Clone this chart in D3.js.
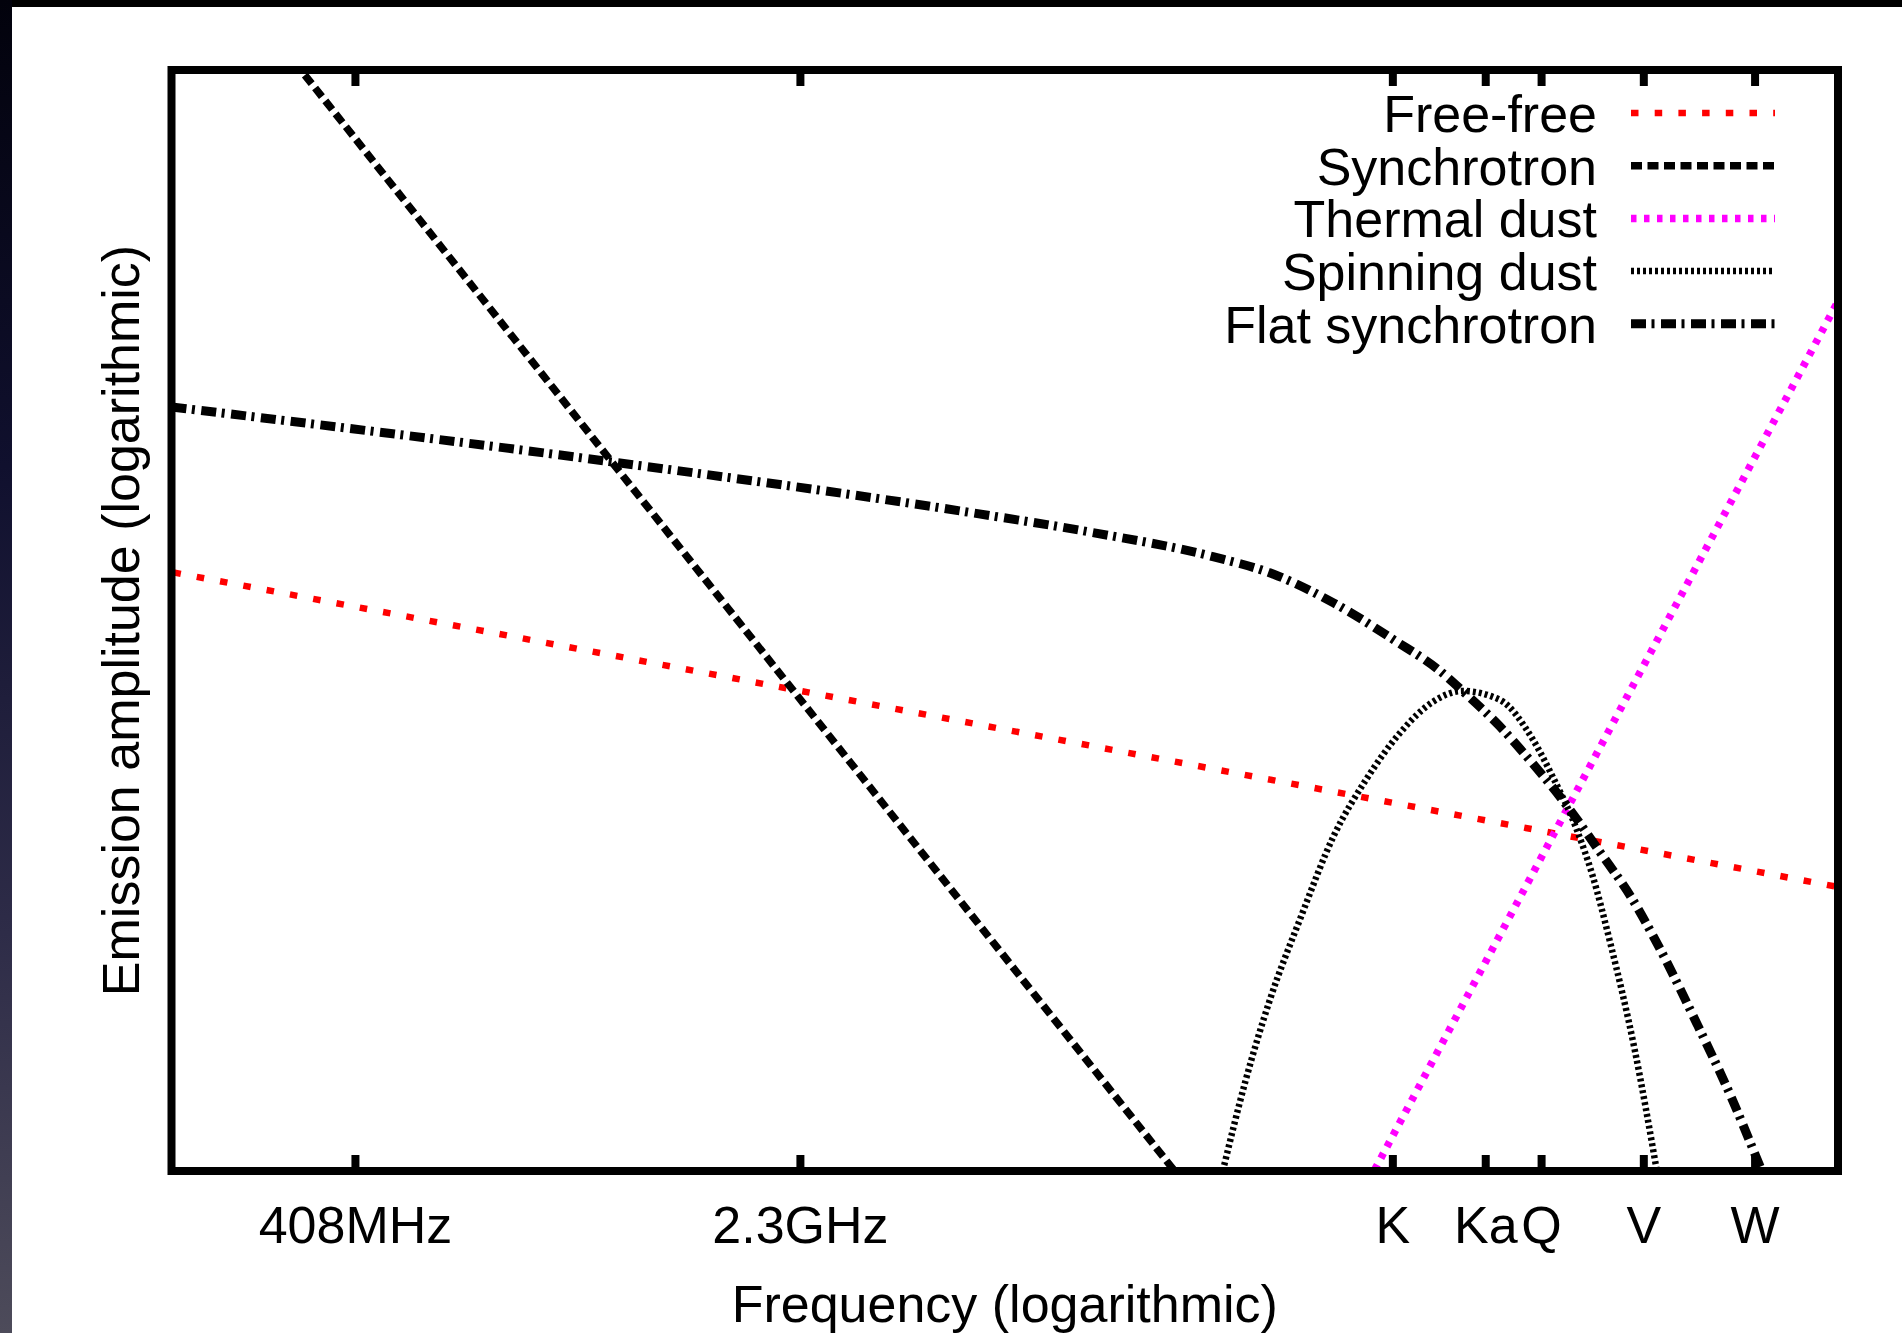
<!DOCTYPE html>
<html>
<head>
<meta charset="utf-8">
<script src="https://cdn.jsdelivr.net/npm/d3@7"></script>
<style>
  html, body { margin: 0; padding: 0; background: #fff; }
  svg { display: block; }
  text { font-family: "Liberation Sans", Arial, Helvetica, sans-serif; }
</style>
</head>
<body>
<svg id="chart"></svg>
<script>
// frequencies in GHz, amplitudes as log10 of arbitrary units
var tickFreqs = [0.408, 2.3, 23, 33, 41, 61, 94];
var tickLabels = ["408MHz", "2.3GHz", "K", "Ka", "Q", "V", "W"];

var seriesNames = ["Free-free", "Synchrotron", "Thermal dust", "Spinning dust", "Flat synchrotron"];

var freeFreeFreq = [0.2, 130];
var freeFreeAmp = [2.72, 1.29];

var synchFreq = [0.2, 10];
var synchAmp = [5.74, -0.02];

var dustFreq = [20, 130];
var dustAmp = [-0.15, 3.95];

var spinFreq = [11.9, 13.0, 14.3, 16.1, 18.3, 20.8, 23.7, 26.9, 30.2, 34.9, 39.7, 42.9, 47.1, 50.1, 53.6, 59.0, 64.3];
var spinAmp = [0, 0.41, 0.78, 1.15, 1.52, 1.78, 1.99, 2.13, 2.18, 2.14, 1.96, 1.79, 1.55, 1.34, 1.04, 0.55, 0];

var flatFreq = [0.2, 1.11, 4.47, 7.16, 11.45, 14.5, 18.3, 23.2, 27.7, 30.5, 34.9, 39.7, 45.3, 51.5, 58.6, 63.3, 75.4, 85.7, 96.7, 103.7];
var flatAmp = [3.47, 3.22, 2.99, 2.90, 2.79, 2.71, 2.58, 2.41, 2.27, 2.17, 2.02, 1.85, 1.66, 1.45, 1.23, 1.07, 0.66, 0.34, 0, -0.2];

// line styles, same order as seriesNames
var styles = [
  {color: "#ff0000", width: 6.5, dash: "7.5,16.2", offset: -2},
  {color: "#000000", width: 7.5, dash: "11,5.5", offset: 0},
  {color: "#ff00ff", width: 7.5, dash: "5.5,7.5", offset: 0},
  {color: "#000000", width: 6.5, dash: "3,3", offset: 0},
  {color: "#000000", width: 9, dash: "15,5.5,3,6.5", offset: 0}
];

var series = [
  [freeFreeFreq, freeFreeAmp],
  [synchFreq, synchAmp],
  [dustFreq, dustAmp],
  [spinFreq, spinAmp],
  [flatFreq, flatAmp]
];

var svgWidth = 1902, svgHeight = 1333;
var plot = {left: 171.5, right: 1838, top: 70, bottom: 1171};

var svg = d3.select("#chart")
  .attr("width", svgWidth)
  .attr("height", svgHeight);

// dark border from the screenshot
var defs = svg.append("defs");
var grad = defs.append("linearGradient")
  .attr("id", "edge")
  .attr("x1", 0).attr("y1", 0).attr("x2", 0).attr("y2", 1);
grad.append("stop").attr("offset", "0%").attr("stop-color", "#02020c");
grad.append("stop").attr("offset", "35%").attr("stop-color", "#10102e");
grad.append("stop").attr("offset", "70%").attr("stop-color", "#2e2c48");
grad.append("stop").attr("offset", "100%").attr("stop-color", "#4d4b5a");

svg.append("rect").attr("x", 0).attr("y", 0).attr("width", svgWidth).attr("height", 7).attr("fill", "#000");
svg.append("rect").attr("x", 0).attr("y", 0).attr("width", 12).attr("height", svgHeight).attr("fill", "url(#edge)");

var x = d3.scaleLog().domain([0.2, 130]).range([plot.left, plot.right]);
var y = d3.scaleLinear().domain([0, 5]).range([plot.bottom, plot.top]);

defs.append("clipPath").attr("id", "clip")
  .append("rect")
  .attr("x", plot.left).attr("y", plot.top)
  .attr("width", plot.right - plot.left)
  .attr("height", plot.bottom - plot.top);

var line = d3.line()
  .x(d => x(d[0]))
  .y(d => y(d[1]))
  .curve(d3.curveMonotoneX);

var curves = svg.append("g").attr("clip-path", "url(#clip)");
series.forEach(function(s, i) {
  var pts = s[0].map((f, j) => [f, s[1][j]]);
  curves.append("path")
    .datum(pts)
    .attr("d", line)
    .attr("fill", "none")
    .attr("stroke", styles[i].color)
    .attr("stroke-width", styles[i].width)
    .attr("stroke-dasharray", styles[i].dash)
    .attr("stroke-dashoffset", styles[i].offset);
});

// axes: ticks inside, top and bottom
var bottomAxis = d3.axisBottom(x)
  .tickValues(tickFreqs)
  .tickFormat((d, i) => tickLabels[i])
  .tickSize(-16);

var gx = svg.append("g")
  .attr("transform", `translate(0, ${plot.bottom})`)
  .call(bottomAxis);
gx.select(".domain").remove();
gx.selectAll(".tick line").attr("stroke", "#000").attr("stroke-width", 8);
gx.selectAll(".tick text")
  .attr("y", 72).attr("dy", 0)
  .attr("font-size", 52)
  .attr("font-family", "Liberation Sans, Arial, sans-serif")
  .attr("fill", "#000");

var gTop = svg.append("g")
  .attr("transform", `translate(0, ${plot.top})`)
  .call(d3.axisTop(x).tickValues(tickFreqs).tickFormat("").tickSize(-16));
gTop.select(".domain").remove();
gTop.selectAll(".tick line").attr("stroke", "#000").attr("stroke-width", 8);

// frame
svg.append("rect")
  .attr("x", plot.left).attr("y", plot.top)
  .attr("width", plot.right - plot.left)
  .attr("height", plot.bottom - plot.top)
  .attr("fill", "none")
  .attr("stroke", "#000")
  .attr("stroke-width", 8);

// legend
var legend = svg.append("g");
seriesNames.forEach(function(name, i) {
  var ly = 113 + i * 52.7;
  legend.append("text")
    .attr("x", 1597).attr("y", ly + 19)
    .attr("text-anchor", "end")
    .attr("font-size", 52)
    .text(name);
  legend.append("line")
    .attr("x1", 1631).attr("x2", 1775)
    .attr("y1", ly).attr("y2", ly)
    .attr("stroke", styles[i].color)
    .attr("stroke-width", styles[i].width)
    .attr("stroke-dasharray", styles[i].dash);
});

// axis titles
svg.append("text")
  .attr("x", (plot.left + plot.right) / 2)
  .attr("y", 1322)
  .attr("text-anchor", "middle")
  .attr("font-size", 52)
  .text("Frequency (logarithmic)");

svg.append("text")
  .attr("transform", `translate(139, ${(plot.top + plot.bottom) / 2}) rotate(-90)`)
  .attr("text-anchor", "middle")
  .attr("font-size", 52)
  .text("Emission amplitude (logarithmic)");
</script>
</body>
</html>
